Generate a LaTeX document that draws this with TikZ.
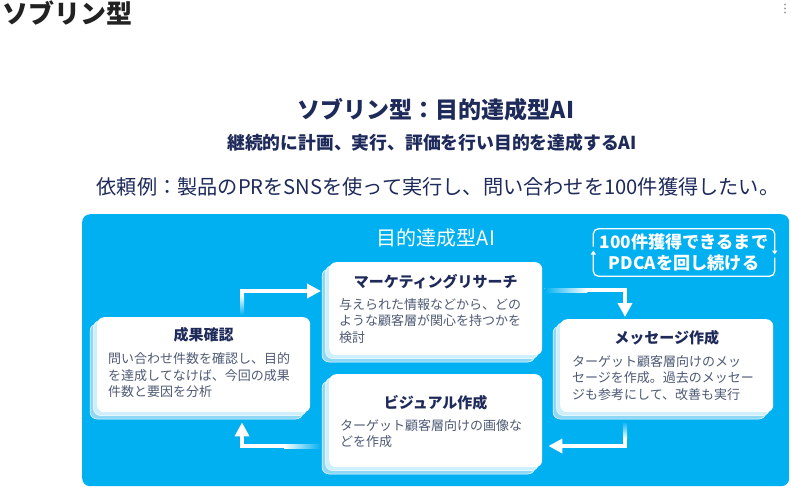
\documentclass[tikz,border=0pt]{standalone}
\usepackage{fontspec}
\setmainfont{Noto Sans CJK JP}
\usetikzlibrary{calc,arrows.meta}
\definecolor{panel}{HTML}{00B0F0}
\definecolor{navy}{HTML}{1E2A5A}
\definecolor{bodytxt}{HTML}{4F5A75}
\definecolor{layA}{HTML}{CDEFFC}
\definecolor{layB}{HTML}{8FD8F5}
\definecolor{darktxt}{HTML}{222222}
\tikzset{
  card/.style={fill=white, rounded corners=7pt, draw=none, inner sep=0},
  cardtitle/.style={font=\fontsize{15}{17}\selectfont\bfseries, text=navy, inner sep=0},
  cardbody/.style={font=\fontsize{13}{16.5}\selectfont, text=bodytxt, align=left, inner sep=0, anchor=north west},
  flow/.style={draw=white, line width=4pt, -{Triangle[length=14pt,width=14pt]}},
  loopline/.style={draw=white, line width=1.3pt, rounded corners=5pt},
  looptip/.style={-{Triangle[length=4pt,width=5pt]}},
}
\newcommand\stackcard[5]{%
  \fill[layB, draw=white, line width=0.5pt, rounded corners=7pt] ({#2-7},{#3+7}) rectangle ({#4-7},{#5+7});
  \fill[layA, draw=white, line width=0.5pt, rounded corners=7pt] ({#2-3.5},{#3+3.5}) rectangle ({#4-3.5},{#5+3.5});
  \node[card, anchor=north west, minimum width={#4-#2}, minimum height={#5-#3}] (#1) at (#2,#3) {};
}
\begin{document}
\begin{tikzpicture}[x=1pt,y=-1pt]
\useasboundingbox (0,0) rectangle (791,488);
\fill[white] (0,0) rectangle (791,488);
% page header
\node[font=\fontsize{26}{30}\selectfont\bfseries, text=darktxt, anchor=west, inner sep=0] (page) at (2,13) {ソブリン型};
\foreach \yy [count=\i] in {4.5,8.5,12.5}
  \node[circle, fill=gray!70, inner sep=0, minimum size=2.4pt] (dot\i) at (785,\yy) {};
% titles
\node[font=\fontsize{23}{26}\selectfont\bfseries, text=navy, inner sep=0] (t1) at (436,110) {ソブリン型：目的達成型AI};
\node[font=\fontsize{17.8}{20}\selectfont\bfseries, text=navy, inner sep=0] (t2) at (432,143) {継続的に計画、実行、評価を行い目的を達成するAI};
\node[font=\fontsize{20.2}{23}\selectfont, text=navy, inner sep=0] (t3) at (438,187) {依頼例：製品のPRをSNSを使って実行し、問い合わせを100件獲得したい。};
% panel
\node[fill=panel, rounded corners=8pt, minimum width=707pt, minimum height=272pt, anchor=north west, inner sep=0] (panel) at (82,214) {};
\node[font=\fontsize{20}{22}\selectfont, text=white, inner sep=0] (ptitle) at (436,238) {目的達成型AI};
% loop box
\node[font=\fontsize{17.2}{21}\selectfont\bfseries, text=white, align=center, inner sep=0, minimum width=181pt, minimum height=47pt] (loop) at (684,252.5) {100件獲得できるまで\\PDCAを回し続ける};
\draw[loopline, looptip] ($(loop.west)+(0,-6)$) |- (loop.north) -| ($(loop.east)+(0,2)$);
\draw[loopline, looptip] ($(loop.east)+(0,5)$) |- (loop.south) -| ($(loop.west)+(0,-2)$);
% cards
\stackcard{mk}{329}{262}{542}{355}
\stackcard{sk}{97}{317}{310}{412}
\stackcard{msg}{560}{319}{773}{412}
\stackcard{vis}{329}{374}{542}{467}
% card texts
\node[cardtitle] (mkt) at ($(mk.north)+(0,20)$) {マーケティングリサーチ};
\node[cardbody] (mkb) at ($(mk.north west)+(10,36)$) {与えられた情報などから、どの\\ような顧客層が関心を持つかを\\検討};
\node[cardtitle] (skt) at ($(sk.north)+(0,18)$) {成果確認};
\node[cardbody] (skb) at ($(sk.north west)+(11,35.5)$) {問い合わせ件数を確認し、目的\\を達成してなけば、今回の成果\\件数と要因を分析};
\node[cardtitle] (msgt) at ($(msg.north)+(0,19)$) {メッセージ作成};
\node[cardbody] (msgb) at ($(msg.north west)+(12,36)$) {ターゲット顧客層向けのメッ\\セージを作成。過去のメッセー\\ジも参考にして、改善も実行};
\node[cardtitle] (vist) at ($(vis.north)+(0,29)$) {ビジュアル作成};
\node[cardbody] (visb) at ($(vis.north west)+(11,45)$) {ターゲット顧客層向けの画像な\\どを作成};
% flow arrows
\draw[flow] ($(sk.north west)+(145,-2)$) |- ($(mk.north west)+(-8,29)$);
\draw[flow] ($(mk.north east)+(2,28)$) -| ($(msg.north west)+(65,-2)$);
\draw[flow] ($(msg.south west)+(65,9)$) |- ($(vis.north east)+(6,72)$);
\draw[flow] ($(vis.north west)+(-8,72)$) -| ($(sk.south west)+(145,10)$);
% fades at arrow starts
\shade[bottom color=panel, top color=white] ($(sk.north west)+(143,-2)$) rectangle ($(sk.north west)+(147,-22)$);
\shade[left color=panel, right color=white] ($(mk.north east)+(2,26)$) rectangle ($(mk.north east)+(45,30)$);
\shade[bottom color=white, top color=panel] ($(msg.south west)+(63,9)$) rectangle ($(msg.south west)+(67,26)$);
\shade[right color=panel, left color=white] ($(vis.north west)+(-8,70)$) rectangle ($(vis.north west)+(-45,74)$);
\end{tikzpicture}
\end{document}
